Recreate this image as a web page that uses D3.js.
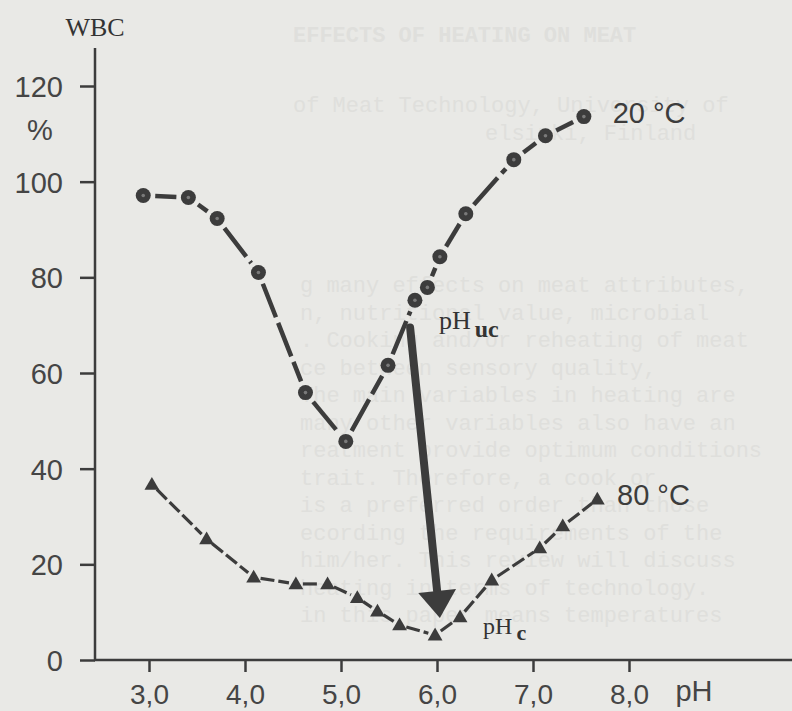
<!DOCTYPE html>
<html>
<head>
<meta charset="utf-8">
<script src="https://cdn.jsdelivr.net/npm/d3@7"></script>
<style>
body { margin: 0; background: #e9e9e6; }
svg { display: block; }
</style>
</head>
<body>
<svg id="chart" width="792" height="711"></svg>
<script>
// pH vs WBC (%) at two temperatures
const ph20 = [2.94, 3.41, 3.71, 4.14, 4.63, 5.05, 5.49, 5.77, 5.90, 6.03, 6.30, 6.80, 7.13, 7.53];
const wbc20 = [97.1, 96.7, 92.3, 81.0, 55.9, 45.7, 61.6, 75.2, 77.9, 84.3, 93.3, 104.6, 109.6, 113.6];
const ph80 = [3.03, 3.60, 4.09, 4.53, 4.86, 5.17, 5.38, 5.61, 5.98, 6.24, 6.57, 7.07, 7.31, 7.67];
const wbc80 = [36.7, 25.3, 17.3, 15.9, 15.9, 13.0, 10.2, 7.3, 5.2, 9.0, 16.7, 23.4, 28.0, 33.6];

const xTicks = [3, 4, 5, 6, 7, 8];
const yTicks = [0, 20, 40, 60, 80, 100, 120];

// arrow pH_uc -> pH_c
const arrowFrom = [5.72, 69.5];
const arrowTo = [6.03, 8.8];

// faint show-through text of the page behind
const ghostHead = ["EFFECTS OF HEATING ON MEAT", "of Meat Technology, University of", "elsinki, Finland"];
const ghostBody = [
  "g many effects on meat attributes,",
  "n, nutritional value, microbial",
  ". Cooking and/or reheating of meat",
  "ce between sensory quality,",
  " The main variables in heating are",
  "many other variables also have an",
  "reatment provide optimum conditions",
  "trait.  Therefore, a cook or",
  "is a preferred order than those",
  "ecording the requirements of the",
  " him/her.  This review will discuss",
  "heating in terms of technology.",
  " in this paper means temperatures"
];

const ink = "#3c3c3c";
const svg = d3.select("#chart");

let ghost = svg.append("g").attr("fill", "#dfdfdc")
    .attr("font-family", "'Liberation Mono', monospace");
ghost.selectAll("text.head").data(ghostHead).enter().append("text")
    .attr("class", "head")
    .attr("x", (d, i) => i == 2 ? 485 : 293)
    .attr("y", (d, i) => [42, 112, 140][i])
    .attr("font-size", 22)
    .attr("font-weight", (d, i) => i == 0 ? "bold" : "normal")
    .text(d => d);
ghost.selectAll("text.body").data(ghostBody).enter().append("text")
    .attr("class", "body")
    .attr("x", 300)
    .attr("y", (d, i) => 292 + i * 27.5)
    .attr("font-size", 22)
    .text(d => d);

let x = d3.scaleLinear().domain([3, 8]).range([149, 629]);
let y = d3.scaleLinear().domain([0, 120]).range([660, 86]);

// axes
let yAxis = svg.append("g")
    .attr("transform", "translate(95,0)")
    .call(d3.axisLeft(y).tickValues(yTicks).tickSize(15).tickPadding(17).tickFormat(d3.format("d")));
let xAxis = svg.append("g")
    .attr("transform", "translate(0,660)")
    .call(d3.axisBottom(x).tickValues(xTicks).tickSize(12).tickPadding(12).tickFormat(d => d3.format(".1f")(d).replace(".", ",")));
[yAxis, xAxis].forEach(a => {
    a.select(".domain").remove();
    a.selectAll("line").attr("stroke", ink).attr("stroke-width", 2.5);
    a.selectAll("text").attr("fill", "#454545")
        .attr("font-family", "'Liberation Sans', Arial, sans-serif").attr("font-size", 29);
});
yAxis.selectAll("text").attr("dy", "0.36em");
xAxis.selectAll("text").attr("font-size", 28);

svg.append("line").attr("x1", 95).attr("x2", 95).attr("y1", 48).attr("y2", 661)
    .attr("stroke", ink).attr("stroke-width", 2.5);
svg.append("line").attr("x1", 94).attr("x2", 792).attr("y1", 660).attr("y2", 660)
    .attr("stroke", ink).attr("stroke-width", 2.5);

// axis titles
svg.append("text").attr("x", 95).attr("y", 36).attr("text-anchor", "middle")
    .attr("font-family", "'Liberation Serif', serif")
    .attr("font-size", 26).attr("fill", "#333").text("WBC");
svg.append("text").attr("x", 40).attr("y", 140).attr("text-anchor", "middle")
    .attr("font-family", "'Liberation Sans', sans-serif").attr("font-size", 29)
    .attr("fill", "#454545").text("%");
svg.append("text").attr("x", 694).attr("y", 701).attr("text-anchor", "middle")
    .attr("font-family", "'Liberation Sans', sans-serif").attr("font-size", 29)
    .attr("fill", "#454545").text("pH");

// dashed segments between markers, trimmed so they stop short of each marker
function segs(px, py, gap) {
    let out = [];
    for (let i = 0; i < px.length - 1; i++) {
        let x1 = x(px[i]), y1 = y(py[i]), x2 = x(px[i + 1]), y2 = y(py[i + 1]);
        let len = Math.hypot(x2 - x1, y2 - y1);
        if (len < 2 * gap + 2) continue;
        let ux = (x2 - x1) / len, uy = (y2 - y1) / len;
        out.push([x1 + ux * gap, y1 + uy * gap, x2 - ux * gap, y2 - uy * gap]);
    }
    return out;
}

let s20 = svg.append("g");
s20.selectAll("line").data(segs(ph20, wbc20, 12)).enter().append("line")
    .attr("x1", d => d[0]).attr("y1", d => d[1]).attr("x2", d => d[2]).attr("y2", d => d[3])
    .attr("stroke", ink).attr("stroke-width", 4.5).attr("stroke-dasharray", "36,6");
s20.selectAll("circle.pt").data(ph20).enter().append("circle")
    .attr("class", "pt")
    .attr("cx", d => x(d)).attr("cy", (d, i) => y(wbc20[i])).attr("r", 7.5).attr("fill", ink);
s20.selectAll("circle.ctr").data(ph20).enter().append("circle")
    .attr("class", "ctr")
    .attr("cx", d => x(d)).attr("cy", (d, i) => y(wbc20[i])).attr("r", 1.8).attr("fill", "#7a7a7a");

let s80 = svg.append("g");
s80.selectAll("line").data(segs(ph80, wbc80, 7)).enter().append("line")
    .attr("x1", d => d[0]).attr("y1", d => d[1]).attr("x2", d => d[2]).attr("y2", d => d[3])
    .attr("stroke", ink).attr("stroke-width", 3.2).attr("stroke-dasharray", "14,4");
s80.selectAll("path").data(ph80).enter().append("path")
    .attr("d", d3.symbol(d3.symbolTriangle, 95))
    .attr("transform", (d, i) => "translate(" + x(d) + "," + (y(wbc80[i]) + 1) + ")")
    .attr("fill", ink);

// arrow
let ax1 = x(arrowFrom[0]), ay1 = y(arrowFrom[1]), ax2 = x(arrowTo[0]), ay2 = y(arrowTo[1]);
let alen = Math.hypot(ax2 - ax1, ay2 - ay1);
let ux = (ax2 - ax1) / alen, uy = (ay2 - ay1) / alen;
let headL = 27, headW = 19;
let bx = ax2 - ux * headL, by = ay2 - uy * headL;
svg.append("line").attr("x1", ax1).attr("y1", ay1).attr("x2", bx).attr("y2", by)
    .attr("stroke", ink).attr("stroke-width", 8).attr("stroke-linecap", "round");
svg.append("path")
    .attr("d", "M" + ax2 + "," + ay2 + "L" + (bx - uy * headW) + "," + (by + ux * headW)
        + "L" + (bx + uy * headW) + "," + (by - ux * headW) + "Z")
    .attr("fill", ink);

// labels
function subLabel(px, py, main, sub, mainSize, subSize, subDy) {
    let t = svg.append("text").attr("x", x(px)).attr("y", y(py))
        .attr("font-family", "'Liberation Serif', serif").attr("fill", "#333");
    t.append("tspan").attr("font-size", mainSize).text(main);
    t.append("tspan").attr("font-size", subSize).attr("font-weight", "bold")
        .attr("dx", 4).attr("dy", subDy).text(sub);
}
subLabel(6.02, 69.3, "pH", "uc", 26, 24, 8);
subLabel(6.48, 5.4, "pH", "c", 24, 22, 6);

svg.append("text").attr("x", x(7.83)).attr("y", y(112.3))
    .attr("font-family", "'Liberation Sans', sans-serif").attr("font-size", 29)
    .attr("fill", "#3c3c3c").text("20 °C");
svg.append("text").attr("x", x(7.875)).attr("y", y(32.4))
    .attr("font-family", "'Liberation Sans', sans-serif").attr("font-size", 29)
    .attr("fill", "#3c3c3c").text("80 °C");
</script>
</body>
</html>
